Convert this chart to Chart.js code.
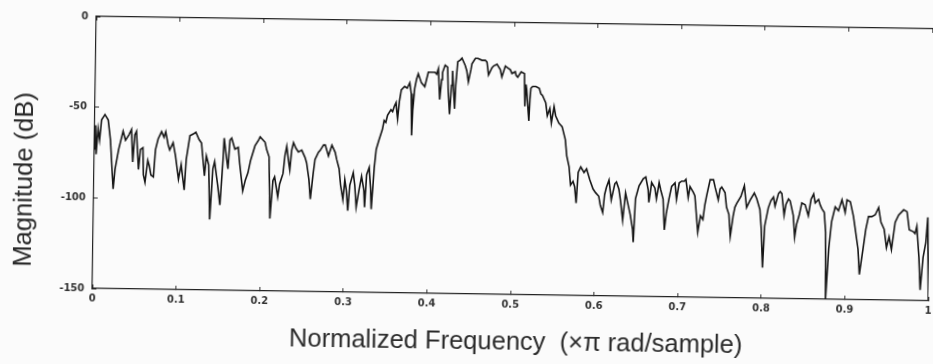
<!DOCTYPE html>
<html>
<head>
<meta charset="utf-8">
<script src="https://cdn.jsdelivr.net/npm/chart.js@4.4.1/dist/chart.umd.min.js"></script>
<style>
  html, body { margin: 0; padding: 0; background: #fbfbfb; overflow: hidden; }
  #wrap { width: 933px; height: 364px; }
  /* a foto original está levemente inclinada */
  #grafico { transform: rotate(0.85deg); transform-origin: 466.5px 182px; }
</style>
</head>
<body>
<div id="wrap"><canvas id="grafico" width="933" height="364"></canvas></div>
<script>
// Pontos [frequência normalizada, magnitude em dB]
const rejeicaoInicio = [
  [0,-73],[0.001,-60],[0.002,-76],[0.004,-62],[0.006,-68],[0.008,-57],[0.012,-54],[0.016,-57],[0.019,-68],[0.023,-95],
  [0.025,-84],[0.029,-73],[0.034,-63],[0.037,-68],[0.041,-65],[0.044,-62],[0.046,-80],[0.048,-65],[0.050,-63],[0.053,-84],
  [0.055,-73],[0.058,-72],[0.059,-87],[0.061,-91],[0.064,-79],[0.066,-82],[0.068,-87],[0.071,-88],[0.073,-73],[0.076,-67],
  [0.078,-65],[0.080,-63],[0.083,-66],[0.085,-63],[0.088,-70],[0.090,-73],[0.094,-69],[0.097,-76],[0.101,-89],[0.104,-81],
  [0.108,-95],[0.110,-78],[0.114,-65],[0.118,-64],[0.121,-63],[0.125,-67],[0.128,-69],[0.132,-87],[0.134,-76],[0.137,-81],
  [0.139,-111],[0.142,-83],[0.144,-79],[0.148,-92],[0.151,-103],[0.154,-78],[0.155,-66],[0.157,-73],[0.160,-83],[0.162,-67],
  [0.164,-66]
];
const rejeicaoMeio = [
  [0.168,-72],[0.172,-71],[0.174,-80],[0.178,-95],[0.181,-89],[0.184,-85],[0.187,-78],[0.192,-70],[0.196,-67],[0.198,-65],
  [0.202,-67],[0.204,-68],[0.206,-72],[0.209,-76],[0.211,-110],[0.214,-89],[0.216,-87],[0.220,-98],[0.222,-91],[0.226,-85],
  [0.228,-75],[0.230,-70],[0.233,-80],[0.234,-83],[0.236,-72],[0.238,-68],[0.241,-71],[0.244,-73],[0.248,-72],[0.252,-76],
  [0.254,-79],[0.257,-88],[0.259,-99],[0.262,-85],[0.264,-77],[0.268,-73],[0.270,-72],[0.274,-69],[0.276,-69],[0.280,-75],
  [0.282,-72],[0.284,-69],[0.288,-73],[0.290,-77],[0.293,-82],[0.295,-91],[0.298,-99],[0.300,-88],[0.302,-94],[0.304,-105],
  [0.306,-91],[0.310,-84],[0.312,-91],[0.314,-103],[0.317,-94],[0.320,-86],[0.323,-94],[0.324,-103],[0.326,-85],[0.329,-81],
  [0.331,-93],[0.332,-104]
];
const faixaPassagem = [
  [0.334,-89],[0.335,-81],[0.337,-71],[0.340,-66],[0.342,-63],[0.344,-60],[0.346,-55],[0.348,-56],[0.350,-52],[0.354,-49],
  [0.356,-50],[0.358,-47],[0.360,-45],[0.361,-50],[0.362,-54],[0.364,-44],[0.366,-38],[0.370,-36],[0.373,-37],[0.376,-34],
  [0.378,-40],[0.379,-63],[0.380,-49],[0.382,-37],[0.384,-32],[0.386,-29],[0.390,-34],[0.394,-36],[0.396,-32],[0.398,-28],
  [0.402,-28],[0.406,-28],[0.408,-29],[0.410,-26],[0.412,-43],[0.414,-32],[0.415,-28],[0.418,-24],[0.421,-25],[0.422,-37],
  [0.424,-51],[0.426,-35],[0.427,-27],[0.430,-48],[0.431,-35],[0.433,-22],[0.436,-21],[0.438,-20],[0.442,-24],[0.444,-27],
  [0.446,-33],[0.449,-26],[0.450,-23],[0.454,-20],[0.457,-20],[0.462,-21],[0.466,-21],[0.468,-22],[0.470,-29],[0.474,-25],
  [0.476,-24],[0.480,-23],[0.484,-26],[0.486,-30],[0.490,-24],[0.493,-25],[0.496,-26],[0.498,-28],[0.502,-27]
];
const transicaoDescida = [
  [0.503,-29],[0.505,-30],[0.509,-27],[0.513,-28],[0.514,-46],[0.515,-34],[0.516,-37],[0.519,-54],[0.520,-42],[0.521,-36],
  [0.523,-35],[0.527,-35],[0.531,-36],[0.533,-39],[0.535,-40],[0.539,-44],[0.541,-51],[0.544,-47],[0.546,-55],[0.549,-46],
  [0.551,-51],[0.555,-55],[0.557,-56],[0.559,-57],[0.563,-64],[0.565,-73],[0.568,-79],[0.570,-89],[0.573,-87],[0.575,-90],
  [0.577,-99],[0.579,-82],[0.582,-79],[0.586,-82],[0.589,-80],[0.593,-86],[0.597,-91],[0.600,-93],[0.604,-95],[0.606,-100],
  [0.609,-104],[0.611,-94],[0.613,-90],[0.616,-86],[0.619,-97],[0.623,-88],[0.625,-87],[0.628,-91],[0.630,-97],[0.633,-108],
  [0.636,-93],[0.640,-101],[0.642,-105],[0.645,-113],[0.646,-120],[0.648,-96],[0.652,-89],[0.657,-85],[0.660,-84],[0.663,-91],
  [0.664,-98],[0.666,-91],[0.667,-87]
];
const rejeicaoFinal = [
  [0.671,-90],[0.673,-96],[0.676,-87],[0.678,-91],[0.681,-96],[0.683,-113],[0.685,-104],[0.688,-96],[0.691,-89],[0.695,-87],
  [0.697,-96],[0.700,-87],[0.703,-86],[0.706,-86],[0.708,-85],[0.711,-95],[0.713,-89],[0.717,-92],[0.719,-94],[0.723,-114],
  [0.726,-105],[0.729,-107],[0.731,-99],[0.733,-94],[0.737,-85],[0.741,-85],[0.743,-89],[0.747,-96],[0.749,-90],[0.751,-89],
  [0.755,-92],[0.757,-100],[0.760,-104],[0.762,-116],[0.765,-105],[0.767,-100],[0.769,-98],[0.774,-94],[0.778,-88],[0.781,-100],
  [0.785,-96],[0.790,-92],[0.793,-95],[0.797,-101],[0.799,-112],[0.801,-133],[0.803,-110],[0.807,-100],[0.810,-96],[0.813,-94],
  [0.815,-99],[0.819,-92],[0.821,-91],[0.823,-92],[0.826,-104],[0.828,-98],[0.831,-95],[0.833,-96],
  [0.837,-104],[0.839,-116],[0.841,-109],[0.844,-104],[0.847,-97],[0.851,-98],[0.855,-104],[0.858,-95],[0.861,-92],[0.863,-97],
  [0.867,-95],[0.869,-98],[0.871,-100],[0.874,-102],[0.876,-113],[0.877,-150],[0.880,-122],[0.883,-107],[0.887,-99],[0.891,-101],
  [0.895,-95],[0.899,-102],[0.901,-95],[0.905,-96],[0.909,-104],[0.911,-110],[0.915,-122],[0.917,-136],[0.921,-122],[0.924,-111],
  [0.927,-104],[0.931,-104],[0.935,-103],[0.939,-99],[0.942,-107],[0.946,-111],[0.949,-121],[0.952,-115],[0.955,-122],[0.959,-107],
  [0.963,-103],[0.969,-100],[0.973,-101],[0.976,-111],[0.981,-112],[0.983,-113],[0.985,-109],[0.988,-126],[0.990,-144],[0.993,-126],
  [0.996,-118],[0.998,-104],[1.0,-150]
];

// Rótulos dos eixos
const rotulosX = ['0', '0.1', '0.2', '0.3', '0.4', '0.5', '0.6', '0.7', '0.8', '0.9', '1'];
const rotulosY = ['0', '-50', '-100', '-150'];
const tituloX = 'Normalized Frequency  (\u00d7\u03c0 rad/sample)';
const tituloY = 'Magnitude (dB)';

const pontos = [].concat(rejeicaoInicio, rejeicaoMeio, faixaPassagem, transicaoDescida, rejeicaoFinal)
  .map(p => ({ x: p[0], y: p[1] }));

const fonteTicks = { family: '"DejaVu Sans", sans-serif', size: 10, weight: 'bold' };

// Desenha os títulos dos eixos (posição fixa como na figura)
const titulosEixos = {
  id: 'titulosEixos',
  afterDraw(chart) {
    const ctx = chart.ctx;
    ctx.save();
    ctx.fillStyle = '#2b2b2b';
    ctx.font = '25.5px "Liberation Sans", Arial, sans-serif';
    ctx.textAlign = 'center';
    ctx.textBaseline = 'middle';
    ctx.fillText(tituloX, 518, 342);
    ctx.translate(25, 186);
    ctx.rotate(-Math.PI / 2);
    ctx.fillText(tituloY, 0, 0);
    ctx.restore();
  }
};

const ctx = document.getElementById('grafico').getContext('2d');
new Chart(ctx, {
  type: 'line',
  data: {
    datasets: [{
      data: pontos,
      borderColor: '#161616',
      borderWidth: 1.6,
      pointRadius: 0,
      tension: 0,
      fill: false
    }]
  },
  options: {
    responsive: false,
    animation: false,
    layout: { padding: { top: 22, right: 3, left: 0, bottom: 0 } },
    plugins: { legend: { display: false }, tooltip: { enabled: false } },
    scales: {
      x: {
        type: 'linear', position: 'bottom', min: 0, max: 1,
        afterFit(s) { s.height = 70; s.paddingLeft = 0; s.paddingRight = 0; },
        ticks: {
          stepSize: 0.1, autoSkip: false, maxRotation: 0, padding: 8,
          font: fonteTicks, color: '#333',
          callback: (v, i) => rotulosX[i]
        },
        grid: { drawOnChartArea: false, tickLength: -4, color: '#333' },
        border: { color: '#222', width: 1.2 }
      },
      xTopo: {
        type: 'linear', position: 'top', min: 0, max: 1,
        afterFit(s) { s.height = 0; s.paddingLeft = 0; s.paddingRight = 0; },
        ticks: { stepSize: 0.1, display: false },
        grid: { drawOnChartArea: false, tickLength: -4, color: '#333' },
        border: { color: '#222', width: 1.2 }
      },
      y: {
        min: -150, max: 0,
        afterFit(s) { s.width = 94; s.paddingTop = 0; s.paddingBottom = 0; },
        ticks: {
          stepSize: 50, padding: 12,
          font: fonteTicks, color: '#333',
          callback: (v, i, t) => rotulosY[t.length - 1 - i]
        },
        grid: { drawOnChartArea: false, tickLength: -4, color: '#333' },
        border: { color: '#222', width: 1.2 }
      }
    }
  },
  plugins: [titulosEixos]
});
</script>
</body>
</html>
